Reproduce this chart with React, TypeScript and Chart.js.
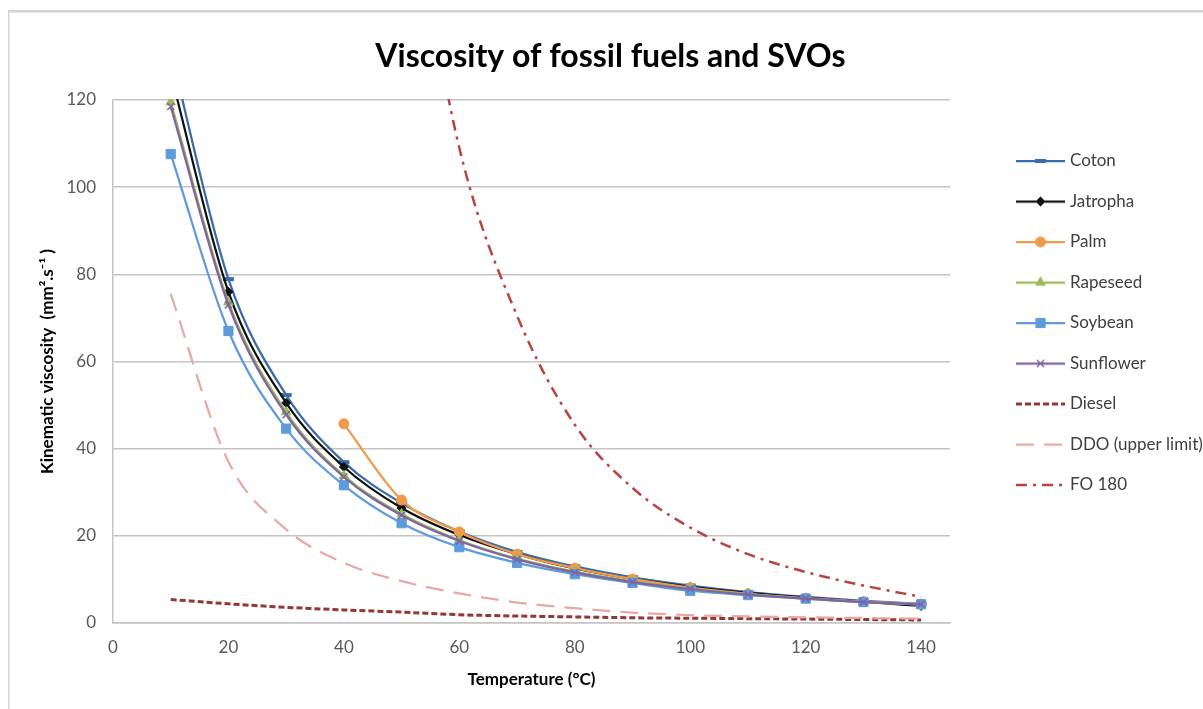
import React, { useEffect, useRef } from 'react';
import { Chart, registerables } from 'chart.js';

Chart.register(...registerables);

// ---------- data ----------
const temperatures = [10, 20, 30, 40, 50, 60, 70, 80, 90, 100, 110, 120, 130, 140];
const coton = [131, 78.9, 52.3, 36.9, 27.5, 21, 16.3, 13, 10.5, 8.6, 7.1, 6, 5.1, 4.4];
const jatropha = [126, 76, 50.5, 35.8, 26.4, 20.2, 15.8, 12.5, 10.1, 8.3, 6.9, 5.8, 4.9, 3.9];
const palm = [null, null, null, 45.7, 28.2, 20.9, 15.8, 12.6, 10.1, 8.1, 6.7, 5.7, 4.9, 4.3];
const rapeseed = [119.5, 73.6, 48.4, 33.8, 25, 19, 14.8, 11.8, 9.6, 7.9, 6.6, 5.6, 4.8, 4.3];
const soybean = [107.6, 67, 44.6, 31.6, 22.9, 17.4, 13.8, 11.2, 9.2, 7.4, 6.4, 5.6, 4.8, 4.3];
const sunflower = [118.5, 73, 47.8, 33.5, 24.7, 18.8, 14.6, 11.6, 9.4, 7.8, 6.5, 5.6, 4.8, 4.3];
const diesel = [5.4, 4.4, 3.6, 3.0, 2.5, 1.9, 1.6, 1.4, 1.2, 1.1, 1.0, 0.9, 0.8, 0.7];
const ddo = [75.5, 37, 21.5, 13.8, 9.6, 6.8, 4.7, 3.4, 2.4, 1.8, 1.5, 1.3, 1.15, 1.0];
const fo180 = [null, null, null, null, 180, 109, 70.5, 45.5, 31, 21.9, 15.8, 11.7, 8.6, 6.0];

const seriesNames = ['Coton', 'Jatropha', 'Palm', 'Rapeseed', 'Soybean', 'Sunflower', 'Diesel', 'DDO (upper limit)', 'FO 180'];
const seriesValues = [coton, jatropha, palm, rapeseed, soybean, sunflower, diesel, ddo, fo180];

const xTickValues = [0, 20, 40, 60, 80, 100, 120, 140];
const yTickValues = [0, 20, 40, 60, 80, 100, 120];

// ---------- styles ----------
const FONT = 'Lato';
type Marker = 'line' | 'rectRot' | 'circle' | 'triangle' | 'rect' | 'crossRot' | null;
interface Style { color: string; width: number; dash: number[]; marker: Marker; radius: number; pbw: number; }
const styles: Style[] = [
  { color: '#3A6BAA', width: 2.25, dash: [], marker: 'line', radius: 5.5, pbw: 4 },
  { color: '#111111', width: 2.25, dash: [], marker: 'rectRot', radius: 4.5, pbw: 1 },
  { color: '#F09A4A', width: 2.25, dash: [], marker: 'circle', radius: 5, pbw: 1 },
  { color: '#9BBB59', width: 2.25, dash: [], marker: 'triangle', radius: 5.5, pbw: 1 },
  { color: '#5E9BDD', width: 2.25, dash: [], marker: 'rect', radius: 6.5, pbw: 1 },
  { color: '#8064A2', width: 2.25, dash: [], marker: 'crossRot', radius: 5, pbw: 1.5 },
  { color: '#953735', width: 3, dash: [6, 3], marker: null, radius: 0, pbw: 0 },
  { color: '#E8A8A6', width: 2.25, dash: [18, 10], marker: null, radius: 0, pbw: 0 },
  { color: '#B8443F', width: 2.5, dash: [11, 6, 3, 6], marker: null, radius: 0, pbw: 0 },
];

const LEGEND_FS = 17;
const LEGEND_PAD = 23.5;
const LEGEND_BOX = 88;
const LEGEND_TARGET_W = 264;

function drawMarker(ctx: CanvasRenderingContext2D, s: Style, x: number, y: number) {
  const r = s.radius;
  ctx.save();
  ctx.setLineDash([]);
  ctx.fillStyle = s.color;
  ctx.strokeStyle = s.color;
  ctx.lineWidth = s.pbw;
  ctx.beginPath();
  switch (s.marker) {
    case 'line':
      ctx.moveTo(x - r, y); ctx.lineTo(x + r, y); ctx.stroke();
      break;
    case 'rectRot':
      ctx.moveTo(x, y - r); ctx.lineTo(x + r, y); ctx.lineTo(x, y + r); ctx.lineTo(x - r, y); ctx.closePath();
      ctx.fill(); ctx.stroke();
      break;
    case 'circle':
      ctx.arc(x, y, r, 0, Math.PI * 2); ctx.fill(); ctx.stroke();
      break;
    case 'triangle': {
      for (let k = 0; k < 3; k++) {
        const a = -Math.PI / 2 + k * (2 * Math.PI / 3);
        const px = x + Math.cos(a) * r, py = y + Math.sin(a) * r;
        if (k === 0) ctx.moveTo(px, py); else ctx.lineTo(px, py);
      }
      ctx.closePath(); ctx.fill(); ctx.stroke();
      break;
    }
    case 'rect': {
      const h = r * Math.SQRT1_2;
      ctx.rect(x - h, y - h, 2 * h, 2 * h); ctx.fill(); ctx.stroke();
      break;
    }
    case 'crossRot': {
      const h = r * Math.SQRT1_2;
      ctx.moveTo(x - h, y - h); ctx.lineTo(x + h, y + h);
      ctx.moveTo(x + h, y - h); ctx.lineTo(x - h, y + h);
      ctx.stroke();
      break;
    }
    default:
      break;
  }
  ctx.restore();
}

function makeLegendImage(s: Style): HTMLCanvasElement {
  const c = document.createElement('canvas');
  c.width = 95;
  c.height = 20;
  const ctx = c.getContext('2d')!;
  ctx.strokeStyle = s.color;
  ctx.lineWidth = s.width;
  ctx.setLineDash(s.dash);
  ctx.beginPath();
  ctx.moveTo(46, 10);
  ctx.lineTo(95, 10);
  ctx.stroke();
  if (s.marker) drawMarker(ctx, s, 70.5, 10);
  return c;
}

const framePlugin = {
  id: 'frame',
  beforeDraw(chart: any) {
    const { ctx, width, height } = chart;
    ctx.save();
    ctx.fillStyle = '#ffffff';
    ctx.fillRect(0, 0, width, height);
    ctx.fillStyle = '#D4D4D4';
    ctx.fillRect(0, 10, width, 2.5);
    ctx.fillRect(0, 10, 1.5, height - 10);
    ctx.restore();
  },
};

export default function App() {
  const ref = useRef<HTMLCanvasElement | null>(null);

  useEffect(() => {
    if (!ref.current) return;

    const mctx = document.createElement('canvas').getContext('2d')!;
    mctx.font = `${LEGEND_FS}px ${FONT}`;
    const maxText = Math.max(...seriesNames.map((n) => mctx.measureText(n).width));
    const natural = LEGEND_PAD + LEGEND_BOX + LEGEND_FS / 2 + maxText + 10;
    const padRight = Math.max(0, LEGEND_TARGET_W - natural);

    const images = styles.map(makeLegendImage);

    const datasets = seriesNames.map((name, i) => {
      const s = styles[i];
      const vals = seriesValues[i];
      const pts = temperatures
        .map((t, j) => ({ x: t, y: vals[j] }))
        .filter((p) => p.y !== null && p.y !== undefined);
      return {
        label: name,
        data: pts,
        borderColor: s.color,
        backgroundColor: s.color,
        borderWidth: s.width,
        borderDash: s.dash,
        cubicInterpolationMode: 'monotone' as const,
        pointStyle: s.marker || 'circle',
        pointRadius: s.marker ? s.radius : 0,
        pointHoverRadius: s.marker ? s.radius : 0,
        pointBorderWidth: s.pbw,
        pointBackgroundColor: s.color,
        pointBorderColor: s.color,
        order: seriesNames.length - 1 - i,
        clip: { left: 10, top: 1, right: 10, bottom: 10 },
      };
    });

    const chart = new Chart(ref.current, {
      type: 'line',
      data: { datasets: datasets as any },
      plugins: [framePlugin],
      options: {
        responsive: false,
        animation: false,
        devicePixelRatio: 1,
        layout: { padding: { left: 0, top: 0, right: padRight, bottom: 0 } },
        plugins: {
          tooltip: { enabled: false },
          title: {
            display: true,
            text: 'Viscosity of fossil fuels and SVOs',
            color: '#000000',
            font: { family: FONT, size: 32, weight: 'bold' },
            padding: { top: 37.8, bottom: 23.8 },
          },
          legend: {
            display: true,
            position: 'right',
            align: 'start',
            maxWidth: LEGEND_TARGET_W,
            title: { display: true, text: '', font: { size: 10 }, padding: { top: 117, bottom: 0 } },
            labels: {
              usePointStyle: true,
              pointStyleWidth: LEGEND_BOX,
              padding: LEGEND_PAD,
              color: '#3F3F3F',
              font: { family: FONT, size: LEGEND_FS },
              generateLabels: () =>
                seriesNames.map((name, i) => ({
                  text: name,
                  fillStyle: 'rgba(0,0,0,0)',
                  strokeStyle: 'rgba(0,0,0,0)',
                  lineWidth: 0,
                  pointStyle: images[i] as any,
                  hidden: false,
                  datasetIndex: i,
                  fontColor: '#3F3F3F',
                })),
            },
          },
        },
        scales: {
          x: {
            type: 'linear',
            min: 0,
            max: 145,
            afterBuildTicks: (s: any) => {
              s.ticks = xTickValues.map((v) => ({ value: v }));
            },
            afterFit: (s: any) => {
              s.height = 86;
            },
            grid: { display: false, drawTicks: false },
            border: { display: true, color: '#C4C4C4', width: 1.5 },
            ticks: {
              color: '#595959',
              font: { family: FONT, size: 17 },
              padding: 14,
              maxRotation: 0,
              autoSkip: false,
            },
            title: {
              display: true,
              text: 'Temperature (°C)',
              color: '#000000',
              font: { family: FONT, size: 17, weight: 'bold' },
              padding: { top: 0, bottom: 18.8 },
            },
          },
          y: {
            type: 'linear',
            min: 0,
            max: 120,
            afterBuildTicks: (s: any) => {
              s.ticks = yTickValues.map((v) => ({ value: v }));
            },
            afterFit: (s: any) => {
              s.width = 105;
            },
            grid: { color: '#C4C4C4', lineWidth: 1.5, drawTicks: false },
            border: { display: true, color: '#C4C4C4', width: 1.5 },
            ticks: { color: '#595959', font: { family: FONT, size: 17 }, padding: 17 },
            title: {
              display: true,
              text: 'Kinematic viscosity  (mm².s⁻¹ )',
              color: '#000000',
              font: { family: FONT, size: 17, weight: 'bold' },
              padding: { top: 29.8, bottom: 0 },
            },
          },
        },
      } as any,
    });

    return () => chart.destroy();
  }, []);

  return (
    <div
      style={{
        position: 'fixed',
        left: 0,
        top: 0,
        width: 1203,
        height: 709,
        overflow: 'hidden',
        background: '#ffffff',
      }}
    >
      <canvas
        ref={ref}
        width={1206}
        height={709}
        style={{ position: 'absolute', left: 8, top: 0, width: 1206, height: 709 }}
      />
    </div>
  );
}
